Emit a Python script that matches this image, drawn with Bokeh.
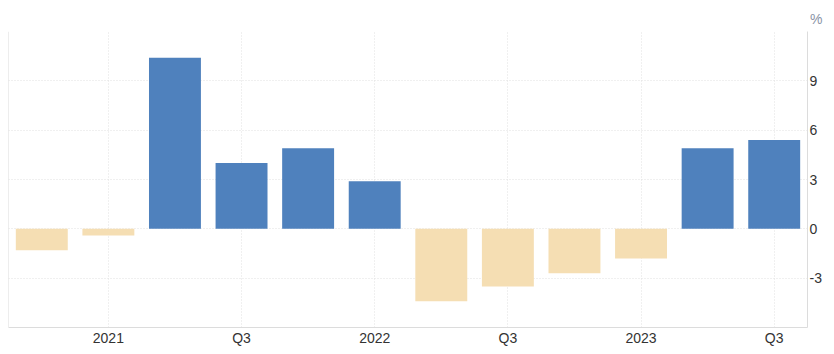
from bokeh.plotting import figure
from bokeh.models import FixedTicker, Span, Title, Range1d, ColumnDataSource
from bokeh.embed import file_html
from bokeh.resources import INLINE

# Data
quarters = ["2020 Q4", "2021 Q1", "2021 Q2", "2021 Q3", "2021 Q4", "2022 Q1",
            "2022 Q2", "2022 Q3", "2022 Q4", "2023 Q1", "2023 Q2", "2023 Q3"]
values = [-1.3, -0.4, 10.4, 4.0, 4.9, 2.9, -4.4, -3.5, -2.7, -1.8, 4.9, 5.4]
y_ticks = [-6, -3, 0, 3, 6, 9, 12]
y_tick_labels = ["", "-3", "0", "3", "6", "9", ""]
unit_label = "%"

POS = "#4F81BD"
NEG = "#F5DEB3"
GRID = "#e0e0e0"
AXIS = "#dcdcdc"
TXT = "#333333"
FONT = "Liberation Sans"

idx = list(range(len(quarters)))
colors = [POS if v >= 0 else NEG for v in values]
src = ColumnDataSource(dict(x=idx, top=values, color=colors, q=quarters))

# x ticks: Q1 -> year, Q3 -> "Q3"
x_ticks, x_labels = [], []
for i, q in enumerate(quarters):
    yr, qq = q.split()
    if qq == "Q1":
        x_ticks.append(i); x_labels.append(yr)
    elif qq == "Q3":
        x_ticks.append(i); x_labels.append("Q3")

p = figure(width=834, height=354, output_backend="svg", toolbar_location=None,
           y_axis_location="right",
           x_range=Range1d(-0.5, len(quarters) - 0.5),
           y_range=Range1d(y_ticks[0], y_ticks[-1]),
           min_border_left=8, min_border_right=27, min_border_top=31,
           min_border_bottom=27)
p.outline_line_color = None
p.background_fill_color = "white"
p.border_fill_color = "white"

p.vbar(x="x", top="top", bottom=0, width=0.78, color="color", line_color=None, source=src)

# axes
p.xaxis.ticker = FixedTicker(ticks=x_ticks)
p.xaxis.major_label_overrides = {t: l for t, l in zip(x_ticks, x_labels)}
p.yaxis.ticker = FixedTicker(ticks=y_ticks)
p.yaxis.major_label_overrides = {t: l for t, l in zip(y_ticks, y_tick_labels)}
for ax in (p.xaxis, p.yaxis):
    ax.axis_line_color = AXIS
    ax.axis_line_width = 1
    ax.major_tick_line_color = None
    ax.minor_tick_line_color = None
    ax.major_tick_out = 0
    ax.major_tick_in = 0
    ax.minor_tick_out = 0
    ax.minor_tick_in = 0
    ax.major_label_text_font = FONT
    ax.major_label_text_font_size = "14px"
    ax.major_label_text_color = TXT
p.xaxis.major_label_standoff = 2
p.yaxis.major_label_standoff = 2

for g in (p.xgrid, p.ygrid):
    g.grid_line_color = GRID
    g.grid_line_dash = "1 2"
    g.grid_line_width = 1

# left border line
p.add_layout(Span(location=-0.5, dimension="height", line_color=AXIS, line_width=1))

# unit label
p.add_layout(Title(text=unit_label, align="right", offset=-15,
                   text_font=FONT, text_font_size="14px", text_font_style="normal",
                   text_color="#8a94a6"), "above")

open("out.html", "w").write(file_html(p, INLINE))
